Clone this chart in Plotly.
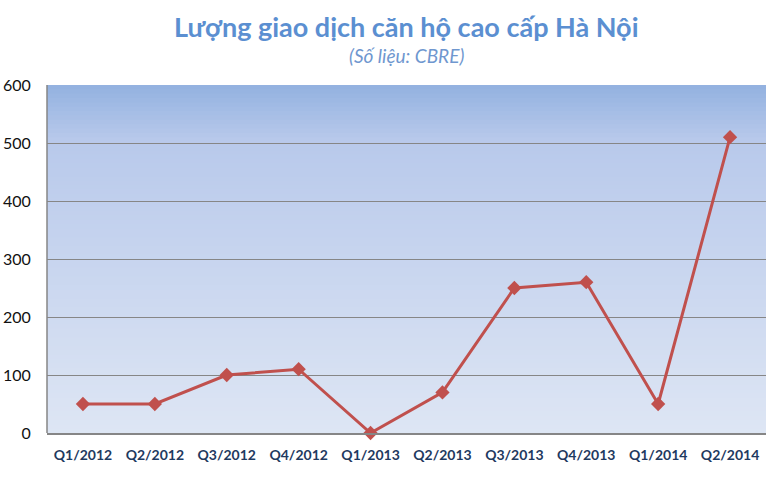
import plotly.graph_objects as go

quarters = ['Q1/2012', 'Q2/2012', 'Q3/2012', 'Q4/2012', 'Q1/2013',
            'Q2/2013', 'Q3/2013', 'Q4/2013', 'Q1/2014', 'Q2/2014']
deals = [50, 50, 100, 110, 0, 70, 250, 260, 50, 510]
y_ticks = [0, 100, 200, 300, 400, 500, 600]

fig = go.Figure()
fig.add_trace(go.Scatter(
    x=quarters, y=deals, mode='lines+markers',
    line=dict(color='#c0504d', width=3),
    marker=dict(symbol='diamond', size=11, color='#c0504d'),
    cliponaxis=False,
))

# gradient background for the plot area (overlapping thin bands)
def mix(c1, c2, t):
    return 'rgb(%d,%d,%d)' % tuple(round(a + (b - a) * t) for a, b in zip(c1, c2))

top, mid, bot = (148, 178, 224), (184, 201, 235), (222, 230, 244)
n = 80
shapes = []
for i in range(n):
    t = i / n
    if t < 0.15:
        col = mix(top, mid, t / 0.15)
    else:
        col = mix(mid, bot, (t - 0.15) / 0.85)
    shapes.append(dict(type='rect', xref='paper', yref='paper',
                       x0=0, x1=1, y0=max(0, 1 - (i + 1) / n - 0.01), y1=1 - i / n,
                       fillcolor=col, line=dict(width=0), layer='below'))
shapes.append(dict(type='line', xref='paper', yref='paper', x0=0, x1=0,
                   y0=0, y1=1, line=dict(color='#868686', width=1.5)))

fig.update_layout(
    width=766, height=480,
    margin=dict(l=47, r=0, t=85, b=47),
    paper_bgcolor='white', plot_bgcolor='rgba(0,0,0,0)',
    showlegend=False,
    shapes=shapes,
    font=dict(family='Lato, Open Sans, sans-serif'),
    annotations=[
        dict(text='<b>Lượng giao dịch căn hộ cao cấp Hà Nội</b>',
             xref='paper', yref='paper', x=0.5, y=1, yshift=59,
             xanchor='center', yanchor='middle',
             showarrow=False, font=dict(size=27, color='#5b8fd1')),
        dict(text='<i>(Số liệu: CBRE)</i>',
             xref='paper', yref='paper', x=0.5, y=1, yshift=30,
             xanchor='center', yanchor='middle',
             showarrow=False, font=dict(size=19, color='#6f97cf')),
    ],
)
fig.update_xaxes(range=[-0.5, 9.5], showgrid=False, showline=True,
                 linecolor='#868686', linewidth=1.5,
                 ticks='outside', ticklen=8, tickcolor='rgba(0,0,0,0)',
                 tickfont=dict(size=14, color='#1f3a5f'),
                 tickprefix='<b>', ticksuffix='</b>')
fig.update_yaxes(range=[0, 600], tickvals=y_ticks, showgrid=True,
                 gridcolor='#868686', gridwidth=1, zeroline=False,
                 showline=False, ticks='outside', ticklen=12,
                 tickcolor='rgba(0,0,0,0)',
                 tickfont=dict(size=16, color='#111111'))

fig.write_html('out.html', config={'displayModeBar': False},
               post_script="document.body.style.margin='0';")
